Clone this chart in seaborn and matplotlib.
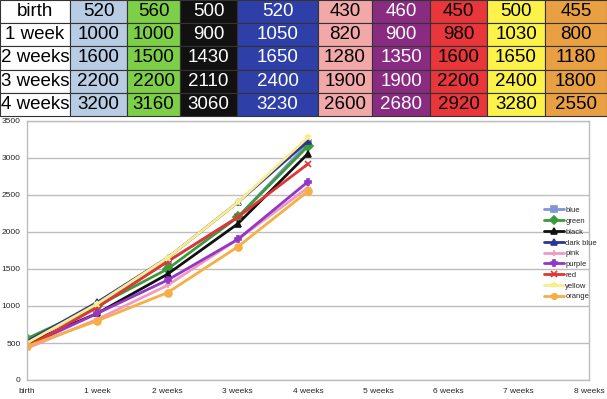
import matplotlib
matplotlib.use("Agg")
import matplotlib.pyplot as plt
import seaborn as sns
import pandas as pd

sns.set_style("white")
plt.rcParams['font.family'] = ['Liberation Sans', 'DejaVu Sans']

ages = ["birth", "1 week", "2 weeks", "3 weeks", "4 weeks"]
axis_labels = ["birth", "1 week", "2 weeks", "3 weeks", "4 weeks",
               "5 weeks", "6 weeks", "7 weeks", "8 weeks"]
series_names = ["blue", "green", "black", "dark blue", "pink",
                "purple", "red", "yellow", "orange"]
blue = [520, 1000, 1600, 2200, 3200]
green = [560, 1000, 1500, 2200, 3160]
black = [500, 900, 1430, 2110, 3060]
dark_blue = [520, 1050, 1650, 2400, 3230]
pink = [430, 820, 1280, 1900, 2600]
purple = [460, 900, 1350, 1900, 2680]
red = [450, 980, 1600, 2200, 2920]
yellow = [500, 1030, 1650, 2400, 3280]
orange = [455, 800, 1180, 1800, 2550]
values = [blue, green, black, dark_blue, pink, purple, red, yellow, orange]

# styles
cell_colors = ["#b8cce4", "#7ccf46", "#111111", "#2f3fa8", "#f2a8a8",
               "#8a2b82", "#e8363a", "#fcf24a", "#e9a043"]
text_colors = ["black", "black", "white", "white", "black",
               "white", "black", "black", "black"]
line_colors = ["#8094d6", "#3b9b3b", "#111111", "#2a3595", "#f19ac0",
               "#9436c8", "#e03535", "#f9ee8a", "#f7ae45"]
markers = ["s", "D", "^", "^", "+", "P", "x", "*", "o"]

fig = plt.figure(figsize=(6.07, 3.99), dpi=100)

# ---- table on top ----
ax_t = fig.add_axes([0, 1 - 116 / 399, 1, 116 / 399])
ax_t.axis("off")
cell_text = [[ages[i]] + [str(v[i]) for v in values] for i in range(len(ages))]
col_w = [70, 57, 53, 57, 81, 54, 58, 57, 58, 62]
tbl = ax_t.table(cellText=cell_text, colWidths=[w / sum(col_w) for w in col_w],
                 cellLoc="center", bbox=[0, 0, 1, 1])
tbl.auto_set_font_size(False)
tbl.set_fontsize(13.5)
for (r, c), cell in tbl.get_celld().items():
    cell.set_edgecolor("#333333")
    cell.set_linewidth(0.8)
    cell.PAD = 0.02
    if c == 0:
        cell.set_facecolor("white")
        cell.get_text().set_color("black")
    else:
        cell.set_facecolor(cell_colors[c - 1])
        cell.get_text().set_color(text_colors[c - 1])

# ---- line chart ----
ax = fig.add_axes([27 / 607, 19 / 399, 562 / 607, 259 / 399])
for name, vals, col, mk in zip(series_names, values, line_colors, markers):
    df = pd.DataFrame({"pos": range(len(vals)), "value": vals})
    sns.lineplot(data=df, x="pos", y="value", ax=ax, color=col, lw=2,
                 marker=mk, ms=5, mec=col, mew=1.2, label=name)

ax.set_xlim(0, len(axis_labels) - 1)
ax.set_ylim(0, 3500)
ax.set_xticks(range(len(axis_labels)))
ax.set_xticklabels(axis_labels)
ax.set_yticks(range(0, 3501, 500))
ax.set_xlabel("")
ax.set_ylabel("")
ax.yaxis.grid(True, color="#bdbdbd", lw=1)
for s in ax.spines.values():
    s.set_color("#bdbdbd")
    s.set_linewidth(1)
ax.tick_params(axis="both", labelsize=6, length=3, width=0.8,
               color="#bdbdbd", pad=1.5, direction="out")
ax.tick_params(axis="x", pad=3)

handles, labels = ax.get_legend_handles_labels()
ax.legend(handles, labels, loc="upper left", bbox_to_anchor=(540 / 607, 1 - 203 / 399),
          bbox_transform=fig.transFigure, frameon=False, fontsize=5.5,
          labelspacing=0.45, handlelength=2.6, handletextpad=0.2, borderpad=0,
          markerscale=0.8)

fig.savefig("out.png", dpi=100)
